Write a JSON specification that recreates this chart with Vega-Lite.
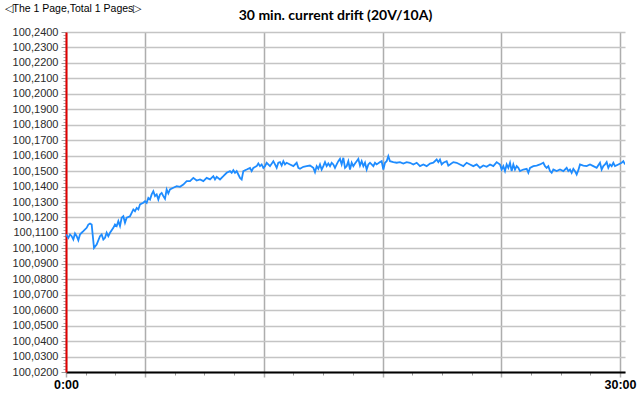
{
"$schema": "https://vega.github.io/schema/vega-lite/v6.json",
"width": 559, "height": 340,
"autosize": "none",
"padding": {"left": 66, "top": 32, "right": 15, "bottom": 30},
"background": "white",
"config": {"view": {"stroke": null}},
"title": {"text": "30 min. current drift (20V/10A)", "font": "Lato", "fontSize": 14, "fontWeight": "bold", "color": "#000000", "anchor": "middle", "frame": "group", "dx": -10, "baseline": "alphabetic", "offset": -31},
"data": {"values": [
{"t":0,"v":100.1090},{"t":0.126,"v":100.1068},{"t":0.217,"v":100.1090},{"t":0.307,"v":100.1079},{"t":0.397,"v":100.1057},{"t":0.487,"v":100.1096},{"t":0.578,"v":100.1079},{"t":0.668,"v":100.1053},{"t":0.758,"v":100.1090},{"t":0.848,"v":100.1101},{"t":0.939,"v":100.1111},{"t":1.119,"v":100.1133},{"t":1.209,"v":100.1154},{"t":1.30,"v":100.1161},{"t":1.39,"v":100.1154},{"t":1.516,"v":100.1003},{"t":1.66,"v":100.1025},{"t":1.841,"v":100.1079},{"t":1.931,"v":100.1090},{"t":2.022,"v":100.1057},{"t":2.112,"v":100.1068},{"t":2.202,"v":100.1101},{"t":2.292,"v":100.1079},{"t":2.383,"v":100.1101},{"t":2.563,"v":100.1133},{"t":2.653,"v":100.1154},{"t":2.744,"v":100.1144},{"t":2.834,"v":100.1176},{"t":2.924,"v":100.1144},{"t":3.014,"v":100.1198},{"t":3.105,"v":100.1208},{"t":3.195,"v":100.1165},{"t":3.285,"v":100.1198},{"t":3.466,"v":100.1208},{"t":3.556,"v":100.1230},{"t":3.646,"v":100.1252},{"t":3.736,"v":100.1241},{"t":3.827,"v":100.1262},{"t":3.917,"v":100.1252},{"t":4.007,"v":100.1284},{"t":4.188,"v":100.1295},{"t":4.278,"v":100.1305},{"t":4.368,"v":100.1295},{"t":4.458,"v":100.1327},{"t":4.549,"v":100.1316},{"t":4.639,"v":100.1349},{"t":4.729,"v":100.1370},{"t":4.82,"v":100.1338},{"t":4.91,"v":100.1349},{"t":5.0,"v":100.1316},{"t":5.09,"v":100.1349},{"t":5.18,"v":100.1359},{"t":5.27,"v":100.1338},{"t":5.36,"v":100.1321},{"t":5.451,"v":100.1381},{"t":5.541,"v":100.1355},{"t":5.631,"v":100.1381},{"t":5.812,"v":100.1392},{"t":5.993,"v":100.1402},{"t":6.173,"v":100.1398},{"t":6.354,"v":100.1413},{"t":6.534,"v":100.1435},{"t":6.715,"v":100.1435},{"t":6.895,"v":100.1456},{"t":7.076,"v":100.1439},{"t":7.256,"v":100.1446},{"t":7.437,"v":100.1435},{"t":7.617,"v":100.1456},{"t":7.798,"v":100.1446},{"t":7.978,"v":100.1467},{"t":8.068,"v":100.1446},{"t":8.159,"v":100.1463},{"t":8.339,"v":100.1446},{"t":8.52,"v":100.1467},{"t":8.70,"v":100.1489},{"t":8.881,"v":100.1500},{"t":8.971,"v":100.1489},{"t":9.061,"v":100.1506},{"t":9.151,"v":100.1489},{"t":9.242,"v":100.1500},{"t":9.332,"v":100.1478},{"t":9.422,"v":100.1456},{"t":9.513,"v":100.1446},{"t":9.603,"v":100.1500},{"t":9.783,"v":100.1510},{"t":9.964,"v":100.1521},{"t":10.054,"v":100.1500},{"t":10.144,"v":100.1521},{"t":10.325,"v":100.1532},{"t":10.415,"v":100.1549},{"t":10.505,"v":100.1532},{"t":10.596,"v":100.1543},{"t":10.686,"v":100.1521},{"t":10.776,"v":100.1532},{"t":10.866,"v":100.1554},{"t":11.047,"v":100.1532},{"t":11.227,"v":100.1564},{"t":11.318,"v":100.1543},{"t":11.408,"v":100.1521},{"t":11.498,"v":100.1554},
{"t":11.588,"v":100.1558},{"t":11.678,"v":100.1536},{"t":11.769,"v":100.1564},{"t":11.859,"v":100.1543},{"t":11.949,"v":100.1554},{"t":12.13,"v":100.1543},{"t":12.31,"v":100.1532},{"t":12.491,"v":100.1554},{"t":12.581,"v":100.1521},{"t":12.671,"v":100.1515},{"t":12.852,"v":100.1528},{"t":13.032,"v":100.1532},{"t":13.213,"v":100.1536},{"t":13.393,"v":100.1521},{"t":13.483,"v":100.1493},{"t":13.574,"v":100.1532},{"t":13.664,"v":100.1515},{"t":13.754,"v":100.1543},{"t":13.844,"v":100.1510},{"t":13.935,"v":100.1532},{"t":14.025,"v":100.1558},{"t":14.115,"v":100.1532},{"t":14.205,"v":100.1549},{"t":14.296,"v":100.1532},{"t":14.386,"v":100.1554},{"t":14.476,"v":100.1543},{"t":14.566,"v":100.1521},{"t":14.657,"v":100.1543},{"t":14.747,"v":100.1564},{"t":14.837,"v":100.1579},{"t":14.927,"v":100.1543},{"t":15.018,"v":100.1586},{"t":15.108,"v":100.1521},{"t":15.198,"v":100.1532},{"t":15.288,"v":100.1564},{"t":15.379,"v":100.1510},{"t":15.469,"v":100.1554},{"t":15.559,"v":100.1532},{"t":15.649,"v":100.1549},{"t":15.74,"v":100.1564},{"t":15.83,"v":100.1579},{"t":15.92,"v":100.1536},{"t":16.01,"v":100.1564},{"t":16.101,"v":100.1532},{"t":16.191,"v":100.1554},{"t":16.281,"v":100.1510},{"t":16.371,"v":100.1543},{"t":16.462,"v":100.1554},{"t":16.642,"v":100.1532},{"t":16.732,"v":100.1554},{"t":16.823,"v":100.1543},{"t":17.003,"v":100.1558},{"t":17.093,"v":100.1564},{"t":17.184,"v":100.1510},{"t":17.274,"v":100.1554},{"t":17.364,"v":100.1564},{"t":17.454,"v":100.1597},{"t":17.545,"v":100.1564},{"t":17.725,"v":100.1558},{"t":17.906,"v":100.1554},{"t":18.086,"v":100.1558},{"t":18.267,"v":100.1549},{"t":18.447,"v":100.1558},{"t":18.628,"v":100.1554},{"t":18.808,"v":100.1543},{"t":18.989,"v":100.1554},{"t":19.169,"v":100.1532},{"t":19.35,"v":100.1543},{"t":19.53,"v":100.1532},{"t":19.711,"v":100.1549},{"t":19.891,"v":100.1554},{"t":20.072,"v":100.1575},{"t":20.162,"v":100.1558},{"t":20.252,"v":100.1575},{"t":20.342,"v":100.1543},{"t":20.433,"v":100.1554},{"t":20.613,"v":100.1564},{"t":20.703,"v":100.1536},{"t":20.794,"v":100.1543},{"t":20.974,"v":100.1558},{"t":21.155,"v":100.1554},{"t":21.335,"v":100.1543},{"t":21.516,"v":100.1532},{"t":21.696,"v":100.1554},{"t":21.877,"v":100.1543},{"t":22.057,"v":100.1532},{"t":22.238,"v":100.1543},{"t":22.418,"v":100.1521},{"t":22.599,"v":100.1536},{"t":22.779,"v":100.1528},{"t":22.96,"v":100.1543},{"t":23.14,"v":100.1532},{"t":23.321,"v":100.1558},{"t":23.501,"v":100.1543},{"t":23.591,"v":100.1510},{"t":23.682,"v":100.1532},{"t":23.772,"v":100.1500},{"t":23.862,"v":100.1543},{"t":23.952,"v":100.1521},{"t":24.043,"v":100.1554},{"t":24.133,"v":100.1500},{"t":24.223,"v":100.1543},{"t":24.313,"v":100.1510},{"t":24.404,"v":100.1532},{"t":24.494,"v":100.1521},{"t":24.584,"v":100.1500},{"t":24.765,"v":100.1510},{"t":24.945,"v":100.1515},{"t":25.035,"v":100.1489},{"t":25.126,"v":100.1521},{"t":25.306,"v":100.1532},{"t":25.487,"v":100.1536},{"t":25.667,"v":100.1543},{"t":25.848,"v":100.1554},{"t":25.938,"v":100.1532},{"t":26.028,"v":100.1521},{"t":26.118,"v":100.1532},{"t":26.209,"v":100.1500},{"t":26.299,"v":100.1489},{"t":26.389,"v":100.1510},{"t":26.57,"v":100.1500},{"t":26.75,"v":100.1510},{"t":26.931,"v":100.1500},{"t":27.111,"v":100.1521},{"t":27.201,"v":100.1500},{"t":27.292,"v":100.1510},{"t":27.382,"v":100.1489},{"t":27.472,"v":100.1515},{"t":27.562,"v":100.1500},{"t":27.653,"v":100.1478},{"t":27.743,"v":100.1506},{"t":27.833,"v":100.1543},{"t":28.014,"v":100.1536},{"t":28.194,"v":100.1532},{"t":28.375,"v":100.1543},{"t":28.555,"v":100.1532},{"t":28.736,"v":100.1521},{"t":28.916,"v":100.1554},{"t":29.006,"v":100.1510},{"t":29.097,"v":100.1532},{"t":29.187,"v":100.1543},{"t":29.277,"v":100.1558},{"t":29.367,"v":100.1521},{"t":29.458,"v":100.1543},{"t":29.548,"v":100.1532},{"t":29.638,"v":100.1554},{"t":29.728,"v":100.1532},{"t":29.909,"v":100.1543},{"t":30.089,"v":100.1554},{"t":30.18,"v":100.1564},{"t":30.27,"v":100.1543}
]},
"layer": [
 {"mark": {"type": "line", "color": "#1e8cff", "strokeWidth": 1.8, "clip": true},
  "encoding": {
   "x": {"field": "t", "type": "quantitative", "scale": {"domain": [0, 30.27], "nice": false, "zero": false},
    "axis": {"orient": "bottom", "values": [1.065,2.673,4.28,5.888,7.495,9.103,10.71,12.318,13.925,15.533,17.14,18.748,20.355,21.963,23.57,25.178,26.785,28.393,30.0], "labels": false, "domain": false, "grid": false, "ticks": true, "tickSize": 3, "tickColor": "#999999", "tickWidth": 1, "title": null}},
   "y": {"field": "v", "type": "quantitative", "scale": {"domain": [100.02, 100.24], "nice": false, "zero": false},
    "axis": {"orient": "left", "values": [100.022,100.024,100.026,100.028,100.032,100.034,100.036,100.038,100.042,100.044,100.046,100.048,100.052,100.054,100.056,100.058,100.062,100.064,100.066,100.068,100.072,100.074,100.076,100.078,100.082,100.084,100.086,100.088,100.092,100.094,100.096,100.098,100.102,100.104,100.106,100.108,100.112,100.114,100.116,100.118,100.122,100.124,100.126,100.128,100.132,100.134,100.136,100.138,100.142,100.144,100.146,100.148,100.152,100.154,100.156,100.158,100.162,100.164,100.166,100.168,100.172,100.174,100.176,100.178,100.182,100.184,100.186,100.188,100.192,100.194,100.196,100.198,100.202,100.204,100.206,100.208,100.212,100.214,100.216,100.218,100.222,100.224,100.226,100.228,100.232,100.234,100.236,100.238], "labels": false, "domain": false, "grid": false, "ticks": true, "tickSize": 3, "tickColor": "#aaaaaa", "tickWidth": 1, "title": null}}
  }},
 {"mark": {"type": "line", "opacity": 0},
  "encoding": {
   "x": {"field": "t", "type": "quantitative", "scale": {"domain": [0, 30.27], "nice": false, "zero": false},
    "axis": {"orient": "bottom", "values": [0, 4.28, 10.71, 17.14, 23.57, 30], "labelExpr": "datum.value == 0 ? '0:00' : (datum.value == 30 ? '30:00' : '')", "labelOverlap": false, "labelFlush": false, "labelFont": "Liberation Sans", "labelFontSize": 12.5, "labelFontWeight": "bold", "labelColor": "#000000", "labelPadding": 1, "labelBaseline": "top", "grid": true, "gridColor": "#adadad", "gridWidth": 1.5, "tickSize": 5, "tickColor": "#adadad", "tickWidth": 1.5, "domainColor": "#000000", "domainWidth": 2, "title": null}},
   "y": {"field": "v", "type": "quantitative", "scale": {"domain": [100.02, 100.24], "nice": false, "zero": false},
    "axis": {"orient": "left", "values": [100.02,100.03,100.04,100.05,100.06,100.07,100.08,100.09,100.10,100.11,100.12,100.13,100.14,100.15,100.16,100.17,100.18,100.19,100.20,100.21,100.22,100.23,100.24], "labelExpr": "replace(format(datum.value, '.4f'), '.', ',')", "labelOverlap": false, "labelFont": "Liberation Sans", "labelFontSize": 11, "labelColor": "#2b2b2b", "labelPadding": 3, "grid": true, "gridColor": "#c4c4c4", "gridWidth": 1.5, "tickSize": 5, "tickColor": "#999999", "tickWidth": 1, "domainColor": "#e00000", "domainWidth": 2,
     "title": "◁The 1 Page,Total 1 Pages▷", "titleAngle": 0, "titleAlign": "left", "titleBaseline": "top", "titleX": -62, "titleY": -29, "titleFont": "Liberation Sans", "titleFontSize": 10.5, "titleFontWeight": "normal", "titleColor": "#000000"}}
  }}
],
"resolve": {"scale": {"x": "independent", "y": "independent"}, "axis": {"x": "independent", "y": "independent"}}
}
